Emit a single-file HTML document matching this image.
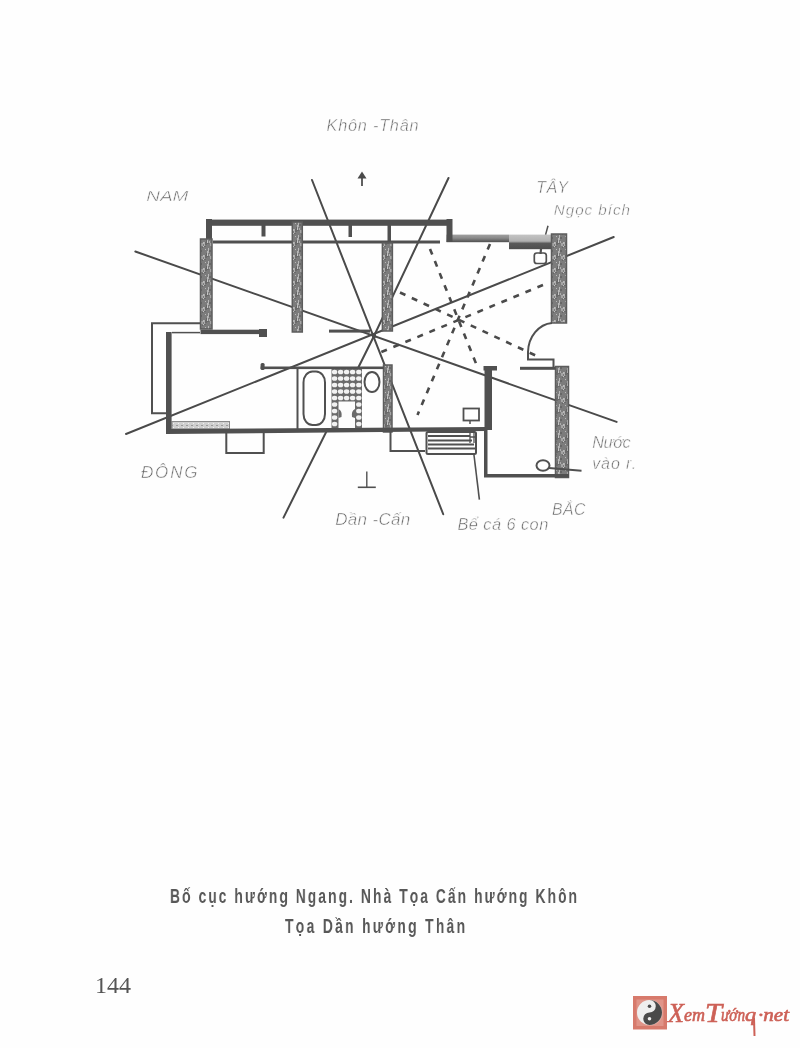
<!DOCTYPE html>
<html><head><meta charset="utf-8">
<style>
html,body{margin:0;padding:0;background:#fefefe;}
body{width:800px;height:1048px;position:relative;overflow:hidden;font-family:"Liberation Sans",sans-serif;}
svg{position:absolute;left:0;top:0;will-change:transform;}
.cap{will-change:transform;}
.cap{position:absolute;font-family:"Liberation Sans",sans-serif;font-weight:bold;color:#4a4a4a;font-size:21px;line-height:24px;white-space:nowrap;transform-origin:0 0;transform:scaleX(0.66);letter-spacing:3.1px;color:#585858;}
</style></head>
<body>
<svg width="800" height="1048" viewBox="0 0 800 1048">
<defs>
  <pattern id="hatch" width="9" height="13" patternUnits="userSpaceOnUse"><rect width="9" height="13" fill="#7c7c7c"/><rect x="3" y="9" width="2" height="2" fill="#a5a5a5"/><rect x="7" y="10" width="2" height="1" fill="#666666"/><rect x="0" y="7" width="1" height="2" fill="#c6c6c6"/><rect x="7" y="8" width="2" height="3" fill="#6a6a6a"/><rect x="2" y="3" width="2" height="2" fill="#666666"/><rect x="6" y="11" width="1" height="1" fill="#c6c6c6"/><rect x="0" y="4" width="1" height="2" fill="#6a6a6a"/><rect x="6" y="11" width="1" height="3" fill="#adadad"/><rect x="7" y="2" width="1" height="1" fill="#b9b9b9"/><rect x="2" y="7" width="1" height="2" fill="#adadad"/><rect x="6" y="12" width="2" height="2" fill="#6a6a6a"/><rect x="8" y="6" width="2" height="2" fill="#666666"/><rect x="6" y="9" width="1" height="2" fill="#adadad"/><rect x="0" y="4" width="2" height="2" fill="#adadad"/><rect x="5" y="8" width="2" height="1" fill="#adadad"/><rect x="3" y="10" width="2" height="2" fill="#a5a5a5"/><rect x="1" y="1" width="1" height="3" fill="#b9b9b9"/><rect x="5" y="12" width="1" height="3" fill="#c6c6c6"/><rect x="0" y="4" width="1" height="3" fill="#b9b9b9"/><rect x="0" y="9" width="2" height="1" fill="#6a6a6a"/><rect x="5" y="8" width="1" height="2" fill="#b9b9b9"/><rect x="4" y="0" width="1" height="1" fill="#666666"/></pattern>
</defs>
<g fill="none" stroke="#4a4a4a" stroke-width="2" stroke-linecap="round">
  <!-- long solid lines through center (374,336) -->
  <line x1="135.3" y1="251.5" x2="616.6" y2="421.9"/>
  <line x1="126" y1="434" x2="613.75" y2="237"/>
  <line x1="312" y1="180" x2="443.25" y2="514.25"/>
  <polyline points="448.5,178 374,336 283.5,517.6"/>
</g>
<g fill="none" stroke="#4a4a4a" stroke-width="2.6" stroke-dasharray="6 7">
  <line x1="430" y1="249" x2="477" y2="366"/>
  <line x1="400" y1="292.5" x2="541" y2="358"/>
  <line x1="490" y1="244" x2="417.5" y2="415"/>
  <line x1="543" y1="285" x2="379" y2="353"/>
</g>
<rect x="298.5" y="369" width="85" height="60" fill="#fefefe"/>
<!-- walls -->
<linearGradient id="g1" x1="0" y1="0" x2="0" y2="1"><stop offset="0" stop-color="#a0a0a0"/><stop offset="0.45" stop-color="#8a8a8a"/><stop offset="1" stop-color="#4e4e4e"/></linearGradient>
<linearGradient id="g2" x1="0" y1="0" x2="0" y2="1"><stop offset="0" stop-color="#c4c4c4"/><stop offset="0.45" stop-color="#b0b0b0"/><stop offset="0.6" stop-color="#5a5a5a"/><stop offset="1" stop-color="#4e4e4e"/></linearGradient>
<rect x="446.5" y="234.6" width="62.5" height="7.6" fill="url(#g1)"/>
<rect x="509" y="234.6" width="43" height="14.6" fill="url(#g2)"/>
<pattern id="light" width="5" height="4" patternUnits="userSpaceOnUse"><rect width="5" height="4" fill="#cfcfcf"/><rect x="1" y="1" width="2" height="1" fill="#9a9a9a"/><rect x="3" y="3" width="1" height="1" fill="#f0f0f0"/></pattern>
<rect x="172" y="421.5" width="57.5" height="7.5" fill="url(#light)" stroke="#8a8a8a" stroke-width="1"/>
<g fill="#505050">
  <!-- top wall -->
  <rect x="206" y="219.6" width="246" height="6.2"/>
  <rect x="206" y="219" width="6" height="21"/>
  <rect x="446.5" y="219" width="6" height="23"/>
  <!-- stubs -->
  <rect x="261.5" y="225" width="4" height="11.5"/>
  <rect x="348.5" y="225" width="3.5" height="12"/>
  <rect x="387.5" y="225" width="3.5" height="17"/>
  <!-- inner line -->
  <rect x="213" y="240.5" width="227" height="3"/>
</g>
<g fill="url(#hatch)" stroke="#5c5c5c" stroke-width="1.5">
  <rect x="200.5" y="239" width="11.5" height="90"/>
  <rect x="292.3" y="222" width="10" height="110"/>
  <rect x="382.4" y="243" width="10" height="88"/>
  <rect x="551.5" y="234" width="15" height="89"/>
  <rect x="383.5" y="365" width="8.5" height="67"/>
  <rect x="555.5" y="366.5" width="13" height="111"/>
  </g>
<g fill="#505050">
  <!-- left wing -->
  <rect x="200.5" y="329.7" width="66" height="4.4"/>
  <rect x="259" y="329" width="8" height="8"/>
  <rect x="166" y="332" width="5.6" height="101"/>
  <polygon points="166,429 486.5,427 486.5,431 166,434"/>
  <rect x="484.5" y="368" width="7.5" height="62"/>
  <!-- stub near center -->
  <rect x="329" y="329.6" width="41" height="3"/>
  <rect x="260.6" y="363" width="4" height="7" rx="1.5"/>
  <rect x="260.6" y="366.5" width="123" height="2.6"/>
  <!-- pillar 5 cap -->
  <rect x="483.5" y="366" width="13.5" height="4.5"/>
  <!-- door stub -->
  <rect x="520" y="366.8" width="35.5" height="3"/>
  <!-- bottom room -->
  <rect x="484" y="430" width="3.5" height="47"/>
  <rect x="484" y="474" width="85" height="3.5"/>
</g>
<g fill="none" stroke="#505050" stroke-width="2">
  <!-- thin L outer -->
  <polyline points="200,323.2 152,323.2 152,413.2 167,413.2"/>
  <line x1="172" y1="332.6" x2="200" y2="332.6" stroke-width="1.5"/>
  <!-- bathroom -->
  <line x1="297.5" y1="368" x2="297.5" y2="429"/>
  <rect x="303.5" y="371.5" width="21.5" height="53.5" rx="9" ry="11"/>
  <ellipse cx="372" cy="382" rx="7.5" ry="10"/>
  <!-- rect below -->
  <polyline points="226.3,433 226.3,453 263.7,453 263.7,433"/>
  <polyline points="390.5,431 390.5,451 425,451"/>
  <rect x="426.5" y="432" width="49.5" height="22" rx="1.5" fill="#fdfdfd"/>
  <line x1="428" y1="436" x2="470" y2="436" stroke-width="2"/>
  <line x1="428" y1="440.6" x2="472" y2="440.6" stroke-width="2"/>
  <line x1="428" y1="444.6" x2="474" y2="444.6" stroke-width="2"/>
  <line x1="428" y1="448.6" x2="475" y2="448.6" stroke-width="2"/>
  <path d="M470,431 v12 M474,431 v12 M470,437 h6" stroke-width="1.3"/>
  <!-- sink -->
  <rect x="463.5" y="408.5" width="15.5" height="12" stroke-width="1.8"/>
  <line x1="470" y1="420" x2="470" y2="424" stroke-width="1.5"/>
  <!-- small square top-right -->
  <rect x="534.3" y="253" width="12" height="10.5" rx="2.5" stroke-width="1.7"/>
  <line x1="541" y1="249" x2="540.5" y2="254" stroke-width="2.2"/>
  <line x1="548" y1="225.7" x2="545.6" y2="234.6" stroke-width="1.5"/>
  <!-- door -->
  <path d="M552,323 A26,30 0 0 0 528,352 L528,359.5 L553.5,359.5 L553.5,367"/>
  <!-- circle toilet -->
  <ellipse cx="543" cy="465.5" rx="6.5" ry="5.3"/>
  <line x1="549" y1="468" x2="581.5" y2="470.7"/>
  <!-- tank leader -->
  <line x1="473.8" y1="453.5" x2="479.4" y2="499.6" stroke-width="1.6"/>
  <!-- T symbol -->
  <line x1="366.8" y1="471.5" x2="366.8" y2="487" stroke-width="1.4"/>
  <line x1="357.8" y1="487.3" x2="375.8" y2="487.3" stroke-width="1.6"/>
  <!-- arrow -->
  <line x1="362" y1="174" x2="362" y2="186" stroke-width="1.8"/>
</g>
<path d="M357.5,178.5 L362,171.5 L366.5,178.5 Z" fill="#4a4a4a"/>
<circle cx="374" cy="336" r="2.2" fill="#4a4a4a"/>
<!-- tiles -->
<rect x="331.5" y="369" width="30.5" height="59" fill="#6a6a6a"/>
<rect x="338.5" y="401.5" width="16.5" height="26.5" fill="#fdfdfd"/>
<g fill="#f2f2f2"><ellipse cx="334.6" cy="372" rx="2.7" ry="2.3"/><ellipse cx="340.6" cy="372" rx="2.7" ry="2.3"/><ellipse cx="346.6" cy="372" rx="2.7" ry="2.3"/><ellipse cx="352.6" cy="372" rx="2.7" ry="2.3"/><ellipse cx="358.8" cy="372" rx="2.7" ry="2.3"/><ellipse cx="334.6" cy="378.5" rx="2.7" ry="2.3"/><ellipse cx="340.6" cy="378.5" rx="2.7" ry="2.3"/><ellipse cx="346.6" cy="378.5" rx="2.7" ry="2.3"/><ellipse cx="352.6" cy="378.5" rx="2.7" ry="2.3"/><ellipse cx="358.8" cy="378.5" rx="2.7" ry="2.3"/><ellipse cx="334.6" cy="385" rx="2.7" ry="2.3"/><ellipse cx="340.6" cy="385" rx="2.7" ry="2.3"/><ellipse cx="346.6" cy="385" rx="2.7" ry="2.3"/><ellipse cx="352.6" cy="385" rx="2.7" ry="2.3"/><ellipse cx="358.8" cy="385" rx="2.7" ry="2.3"/><ellipse cx="334.6" cy="391.5" rx="2.7" ry="2.3"/><ellipse cx="340.6" cy="391.5" rx="2.7" ry="2.3"/><ellipse cx="346.6" cy="391.5" rx="2.7" ry="2.3"/><ellipse cx="352.6" cy="391.5" rx="2.7" ry="2.3"/><ellipse cx="358.8" cy="391.5" rx="2.7" ry="2.3"/><ellipse cx="334.6" cy="398" rx="2.7" ry="2.3"/><ellipse cx="340.6" cy="398" rx="2.7" ry="2.3"/><ellipse cx="346.6" cy="398" rx="2.7" ry="2.3"/><ellipse cx="352.6" cy="398" rx="2.7" ry="2.3"/><ellipse cx="358.8" cy="398" rx="2.7" ry="2.3"/><ellipse cx="334.6" cy="404.5" rx="2.7" ry="2.3"/><ellipse cx="358.8" cy="404.5" rx="2.7" ry="2.3"/><ellipse cx="334.6" cy="411" rx="2.7" ry="2.3"/><ellipse cx="358.8" cy="411" rx="2.7" ry="2.3"/><ellipse cx="334.6" cy="417.5" rx="2.7" ry="2.3"/><ellipse cx="358.8" cy="417.5" rx="2.7" ry="2.3"/><ellipse cx="334.6" cy="424" rx="2.7" ry="2.3"/><ellipse cx="358.8" cy="424" rx="2.7" ry="2.3"/></g>
<path d="M338.5,409 q4,2 3,8 l-3,1 z M355,409 q-4,2 -3,8 l3,1 z" fill="#6a6a6a"/>
<!-- labels -->
<g font-family="Liberation Sans" font-style="italic" fill="#666" stroke="#fefefe" stroke-width="0.5">
<text x="326.5" y="131.2" font-size="16.3" letter-spacing="0.78">Khôn -Thân</text>
<text transform="translate(146.2,201.4) scale(1.24,1)" x="0" y="0" font-size="15.3">NAM</text>
<text x="536.2" y="192.7" font-size="16" letter-spacing="0.43">TÂY</text>
<text x="553.8" y="215.4" font-size="15.2" letter-spacing="0.97">Ngọc bích</text>
<text x="141.0" y="477.5" font-size="17" letter-spacing="1.83">ĐÔNG</text>
<text x="335.2" y="525.3" font-size="17" letter-spacing="0.33">Dần -Cấn</text>
<text x="457.4" y="529.7" font-size="16.4" letter-spacing="0.43">Bể cá 6 con</text>
<text x="552.0" y="515.2" font-size="15.8" letter-spacing="0.50">BẮC</text>
<text x="592.2" y="447.5" font-size="16.3" letter-spacing="-0.50">Nước</text>
<text x="592.2" y="468.5" font-size="16" letter-spacing="0.90">vào r.</text>
</g>
</svg>
<div class="cap" style="left:170px;top:884px;">Bố cục hướng Ngang. Nhà Tọa Cấn hướng Khôn</div>
<div class="cap" style="left:285px;top:914px;letter-spacing:3.5px;">Tọa Dần hướng Thân</div>
<div style="position:absolute;left:95px;top:971px;font-family:'Liberation Serif',serif;font-size:24px;line-height:28px;color:#555;">144</div>
<!-- logo -->
<svg width="800" height="1048" viewBox="0 0 800 1048">
  <rect x="633" y="996" width="34" height="33.5" fill="#d77a6c"/>
  <defs><radialGradient id="lg"><stop offset="0.55" stop-color="#f6e4e0"/><stop offset="1" stop-color="#e09488"/></radialGradient></defs><rect x="636.5" y="999.5" width="27" height="26.5" fill="url(#lg)"/>
  <circle cx="649.5" cy="1012.5" r="12.5" fill="#eeeeee"/>
  <path d="M649.5,1000 A12.5,12.5 0 0 1 649.5,1025 A6.25,6.25 0 0 1 649.5,1012.5 A6.25,6.25 0 0 0 649.5,1000 Z" fill="#4a4a4a"/>
  <circle cx="649.5" cy="1006.2" r="1.8" fill="#4a4a4a"/>
  <circle cx="649.5" cy="1018.7" r="1.8" fill="#eeeeee"/>
  <g font-family="Liberation Serif" font-style="italic" fill="#cd6157" stroke="#cd6157" stroke-width="0.6">
  <text x="668" y="1022" font-size="27" textLength="16" lengthAdjust="spacingAndGlyphs">X</text>
  <text x="684" y="1021" font-size="19" textLength="21" lengthAdjust="spacingAndGlyphs">em</text>
  <text x="705" y="1022" font-size="27" textLength="17" lengthAdjust="spacingAndGlyphs">T</text>
  <text x="721" y="1021" font-size="19" textLength="24" lengthAdjust="spacingAndGlyphs">ướn</text>
  <text x="745" y="1021" font-size="19" textLength="11" lengthAdjust="spacingAndGlyphs">q</text>
  <path d="M754,1018 L754.5,1036" stroke-width="2" fill="none"/>
  <text x="758" y="1021" font-size="19" textLength="31" lengthAdjust="spacingAndGlyphs">·net</text>
</g>
</svg>
</body></html>
